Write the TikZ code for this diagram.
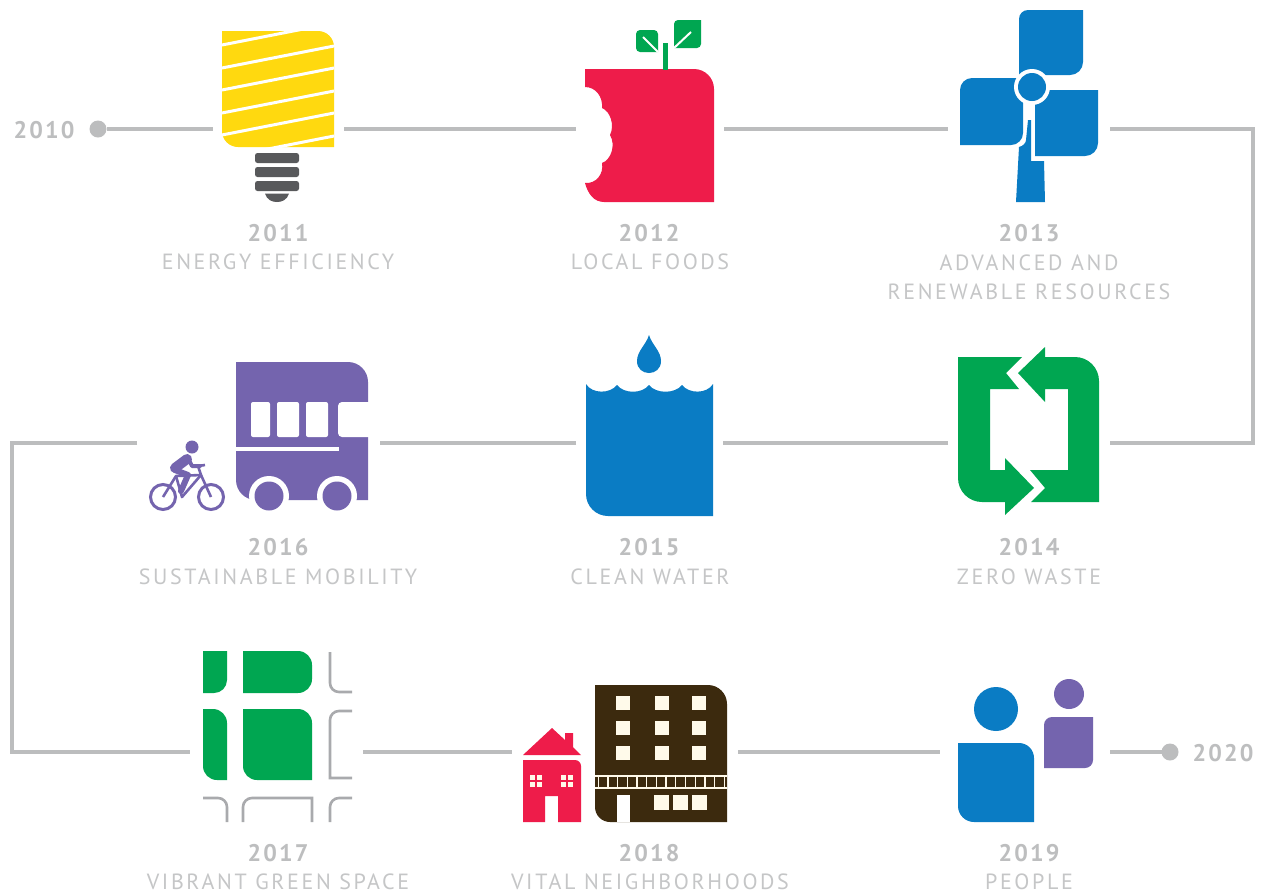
\documentclass[tikz,border=0pt]{standalone}
\usepackage{fontspec}
\newfontfamily\dinfont[LetterSpace=12]{PT Sans}
\newfontfamily\yearfont[LetterSpace=9]{PT Sans}
\definecolor{ltext}{HTML}{C5C6C7}
\definecolor{ytext}{HTML}{BDBEBF}
\definecolor{linegrey}{HTML}{BCBDBE}
\definecolor{roadgrey}{HTML}{A9AAAD}
\definecolor{bulbyellow}{HTML}{FFD90F}
\definecolor{basegrey}{HTML}{58595B}
\definecolor{cred}{HTML}{EE1C4A}
\definecolor{cgreen}{HTML}{00A651}
\definecolor{cblue}{HTML}{0A7CC4}
\definecolor{cpurple}{HTML}{7464AE}
\definecolor{cbrown}{HTML}{3C2A0E}
\definecolor{ccream}{HTML}{FFFAEA}
\tikzset{
  iconbox/.style={inner sep=0pt,outer sep=0pt,minimum height=20pt},
  conn/.style={draw=linegrey,line width=3.6pt},
  enddot/.style={circle,fill=linegrey,inner sep=0pt,outer sep=0pt,minimum size=17pt},
  yearlabel/.style={text=ytext,font=\yearfont\bfseries\fontsize{24}{26}\selectfont,inner sep=0pt,anchor=center},
  namelabel/.style={text=ltext,font=\dinfont\fontsize{22}{29}\selectfont,inner sep=0pt,anchor=center,align=center},
  road/.style={draw=roadgrey,line width=2.6pt,rounded corners=9pt},
  cutline/.style={draw=white,line width=3pt},
  rc/.style={rounded corners=#1pt},
  sc/.style={sharp corners},
}
\begin{document}
\begin{tikzpicture}[x=1pt,y=-1pt]
\useasboundingbox[fill=white] (0,0) rectangle (1264,895);

% ---------- invisible icon frames and dots, connector anchors
\node[enddot] (startdot) at (98,129) {};
\node[iconbox,minimum width=131pt] (bulb) at (278.5,129) {};
\node[iconbox,minimum width=148pt] (apple) at (650,129) {};
\node[iconbox,minimum width=162pt] (turbine) at (1029,129) {};
\node[iconbox,minimum width=162pt] (recycle) at (1029,443) {};
\node[iconbox,minimum width=147pt] (water) at (649.5,443) {};
\node[iconbox,minimum width=243pt] (mobility) at (258.5,443) {};
\node[iconbox,minimum width=173pt] (parks) at (276.5,752) {};
\node[iconbox,minimum width=226pt] (housing) at (625,752) {};
\node[iconbox,minimum width=170pt] (people) at (1025,752) {};
\node[enddot] (enddotb) at (1170,752) {};
\coordinate (rightturn) at (1253,286);
\coordinate (leftturn) at (12,597);

\draw[conn] (startdot) -- (bulb);
\draw[conn] (bulb) -- (apple);
\draw[conn] (apple) -- (turbine);
\draw[conn] (turbine.east) -| (rightturn) |- (recycle.east);
\draw[conn] (recycle) -- (water);
\draw[conn] (water) -- (mobility);
\draw[conn] (mobility.west) -| (leftturn) |- (parks.west);
\draw[conn] (parks) -- (housing);
\draw[conn] (housing) -- (people);
\draw[conn] (people) -- (enddotb);

% ---------- 2011 bulb
\fill[bulbyellow] (222,31) [rc=16] -- (334,31) [sc] -- (334,147) [rc=16] -- (222,147) [sc] -- cycle;
\begin{scope}
\clip (222,31) rectangle (334,147);
\foreach \ya/\yb in {45/23,68/46,90/68,113/91,135/113,158/136}{
  \draw[cutline] (222,\ya) -- (334,\yb);
}
\end{scope}
\foreach \ya/\yb in {153/163,167/177,181/191}{
  \fill[basegrey,rounded corners=2.5pt] (255,\ya) rectangle (299,\yb);
}
\fill[basegrey] (265,193.5) -- (289,193.5) .. controls (287,200) and (282,202) .. (277,202) .. controls (272,202) and (267,200) .. (265,193.5) -- cycle;

% ---------- 2012 apple
\fill[cred] (585,69) [rc=20] -- (714,69) [sc] -- (714,202) -- (604,202) .. controls (594,202) and (588,194) .. (585,183)
  .. controls (596,184) and (604,174) .. (602,163)
  .. controls (611,160) and (616,145) .. (610,135)
  .. controls (615,125) and (610,111) .. (602,108)
  .. controls (603,97) and (596,87) .. (585,87) -- cycle;
\fill[cgreen] (663,43) rectangle (668,70);
\fill[cgreen] (636,34) [rc=4] -- (636,30) -- (658,30) [sc] -- (658,52) [rc=4] -- (636,52) [sc] -- cycle;
\fill[cgreen] (674,48) [rc=4] -- (674,20) [sc] -- (701,20) [rc=4] -- (701,48) [sc] -- cycle;
\draw[draw=white,line width=2pt] (643,37) -- (658,52);
\draw[draw=white,line width=2pt] (674,48) -- (691,32);

% ---------- 2013 turbine
\fill[cblue] (1083,10) -- (1083,10) [rc=13] -- (1083,75) [sc] -- (1019,75) [rc=9] -- (1019,10) [sc] -- cycle;
\fill[cblue] (1023,78) [rc=12] -- (1023,145) [sc] -- (960,145) [rc=12] -- (960,78) [sc] -- cycle;
\fill[cblue] (1035,90) -- (1098,90) [rc=13] -- (1098,156) [sc] -- (1035,156) -- cycle;
\fill[white] (1032,87) circle[radius=18];
\fill[cblue] (1032,87) circle[radius=14];
\fill[cblue] (1028,120) -- (1031,120) -- (1031,161) -- (1044,161) -- (1045,202) -- (1016,202) -- (1019,147) .. controls (1023,146) and (1026,143) .. (1026,140) -- cycle;

% ---------- 2014 recycling arrows
\fill[cgreen] (1018,373) -- (1045,347) -- (1045,357) [rc=24] -- (1099,357) [sc] -- (1099,502) -- (1031,502) -- (1045,488) -- (1030,470) -- (1068,470) -- (1068,389) -- (1045,389) -- (1045,402) -- cycle;
\fill[cgreen] (1034,488) -- (1005,458) -- (1005,470) -- (990,470) -- (990,389) -- (1019,389) -- (1006,373) -- (1022,357) -- (958,357) [rc=24] -- (958,502) [sc] -- (1005,502) -- (1005,515) -- cycle;

% ---------- 2015 water
\fill[cblue] (586,384) .. controls (592,394) and (610,394) .. (617,385) .. controls (624,394) and (642,394) .. (649,385)
  .. controls (656,394) and (675,394) .. (682,385) .. controls (689,394) and (707,394) .. (713,384)
  -- (713,516) [rc=22] -- (586,516) [sc] -- cycle;
\fill[cblue] (649,335) .. controls (652,345) and (661,351) .. (661,361) .. controls (661,369) and (655,373) .. (649,373) .. controls (643,373) and (637,369) .. (637,361) .. controls (637,351) and (646,345) .. (649,335) -- cycle;

% ---------- 2016 bus and bicycle
\fill[cpurple] (236,362) [rc=20] -- (368,362) [sc] -- (368,500) [rc=20] -- (236,500) [sc] -- cycle;
\fill[white,rounded corners=2pt] (251,402) rectangle (270,437);
\fill[white,rounded corners=2pt] (277,402) rectangle (299,437);
\fill[white,rounded corners=2pt] (306,402) rectangle (328,437);
\fill[white] (369,402) [rc=4] -- (338,402) -- (338,437) [sc] -- (369,437) -- cycle;
\fill[white] (236,447) rectangle (339,451);
\fill[white] (269,496) circle[radius=20];
\fill[white] (337,496) circle[radius=20];
\fill[white] (245,500.5) rectangle (360,520);
\fill[cpurple] (269,496) circle[radius=14.5];
\fill[cpurple] (337,496) circle[radius=14.5];
\draw[cpurple,line width=3pt] (163,497) circle[radius=12.5];
\draw[cpurple,line width=3pt] (211,497) circle[radius=12.5];
\draw[cpurple,line width=2.6pt,line join=round] (163,497) -- (176,476) -- (201,475) -- (211,497);
\draw[cpurple,line width=2.6pt,line join=round] (176,476) -- (182,497) -- (201,475) -- (198,466) -- (205,465);
\fill[cpurple] (192,447) circle[radius=6.5];
\draw[cpurple,line width=10pt,line cap=round] (187,459) -- (175,468);
\draw[cpurple,line width=4pt,line cap=round,line join=round] (188,458) -- (192,466) -- (200,466);
\draw[cpurple,line width=6pt,line cap=round,line join=round] (175,470) -- (188,475) -- (181,491);

% ---------- 2017 green blocks and roads
\fill[cgreen] (203,651) -- (227,651) [rc=13] -- (227,693) [sc] -- (203,693) -- cycle;
\fill[cgreen] (243,651) [rc=14] -- (312,651) -- (312,693) [sc] -- (243,693) -- cycle;
\fill[cgreen] (203,709) [rc=14] -- (227,709) [sc] -- (227,780) [rc=14] -- (203,780) [sc] -- cycle;
\fill[cgreen] (243,709) [rc=14] -- (312,709) [sc] -- (312,780) [rc=14] -- (243,780) [sc] -- cycle;
\draw[road] (330,652) -- (330,692) -- (352,692);
\draw[road] (352,711) -- (330,711) [sharp corners] -- (330,778) -- (352,778);
\draw[road] (203,798) -- (227,798) -- (227,822);
\draw[road] (243,822) -- (243,798) [sharp corners] -- (312,798) -- (312,822);
\draw[road] (352,798) -- (330,798) -- (330,822);

% ---------- 2018 house and block of flats
\fill[cred] (523,755) -- (552,728) -- (565,740) -- (565,733) -- (573,733) -- (573,747) -- (581,755) -- cycle;
\fill[cred] (523,760) [rc=6] -- (581,760) [sc] -- (581,822) -- (558,822) -- (558,796) -- (545,796) -- (545,822) -- (523,822) -- cycle;
\foreach \wx in {530,561}{
  \fill[ccream] (\wx,775) rectangle ++(12,12);
  \draw[cred,line width=1.2pt] (\wx+6,775) -- (\wx+6,787);
  \draw[cred,line width=1.2pt] (\wx,781) -- (\wx+12,781);
}
\fill[cbrown] (595,685) [rc=19] -- (727,685) [sc] -- (727,822) [rc=15] -- (595,822) [sc] -- cycle;
\foreach \wy in {703,728,753}{
  \foreach \wx in {623,662,699}{
    \fill[ccream] (\wx-7,\wy-7) rectangle ++(14,14);
  }
}
\fill[ccream] (595,775) rectangle (727,776.5);
\fill[ccream] (595,787) rectangle (727,788.5);
\foreach \k in {0,...,13}{
  \fill[ccream] (597.5+\k*9.7,776) rectangle ++(1.3,12);
}
\fill[white] (617,795) rectangle (630,822);
\fill[ccream] (654,795) rectangle (669,810);
\fill[ccream] (673,795) rectangle (688,810);
\fill[ccream] (692,795) rectangle (707,810);

% ---------- 2019 people
\fill[cblue] (996,709) circle[radius=22];
\fill[cblue] (958,743) [rc=15] -- (1034,743) [sc] -- (1034,822) [rc=16] -- (958,822) [sc] -- cycle;
\fill[cpurple] (1069,694) circle[radius=15];
\fill[cpurple] (1093,717) [rc=8] -- (1093,768) [sc] -- (1044,768) [rc=8] -- (1044,717) [sc] -- cycle;

% ---------- text
\node[yearlabel] (t2010) at (44,130) {2010};
\node[yearlabel] (t2020) at (1223,753) {2020};
\node[yearlabel] (y2011) at (278,233) {2011};
\node[namelabel] (n2011) at (278,262) {ENERGY EFFICIENCY};
\node[yearlabel] (y2012) at (649,233) {2012};
\node[namelabel] (n2012) at (650,262) {LOCAL FOODS};
\node[yearlabel] (y2013) at (1029,233) {2013};
\node[namelabel] (n2013) at (1029,277) {ADVANCED AND\\RENEWABLE RESOURCES};
\node[yearlabel] (y2016) at (278,547) {2016};
\node[namelabel] (n2016) at (278,577) {SUSTAINABLE MOBILITY};
\node[yearlabel] (y2015) at (649,547) {2015};
\node[namelabel] (n2015) at (650,577) {CLEAN WATER};
\node[yearlabel] (y2014) at (1029,547) {2014};
\node[namelabel] (n2014) at (1029,577) {ZERO WASTE};
\node[yearlabel] (y2017) at (278,853) {2017};
\node[namelabel] (n2017) at (278,882) {VIBRANT GREEN SPACE};
\node[yearlabel] (y2018) at (649,853) {2018};
\node[namelabel] (n2018) at (650,882) {VITAL NEIGHBORHOODS};
\node[yearlabel] (y2019) at (1029,853) {2019};
\node[namelabel] (n2019) at (1029,882) {PEOPLE};
\end{tikzpicture}
\end{document}
